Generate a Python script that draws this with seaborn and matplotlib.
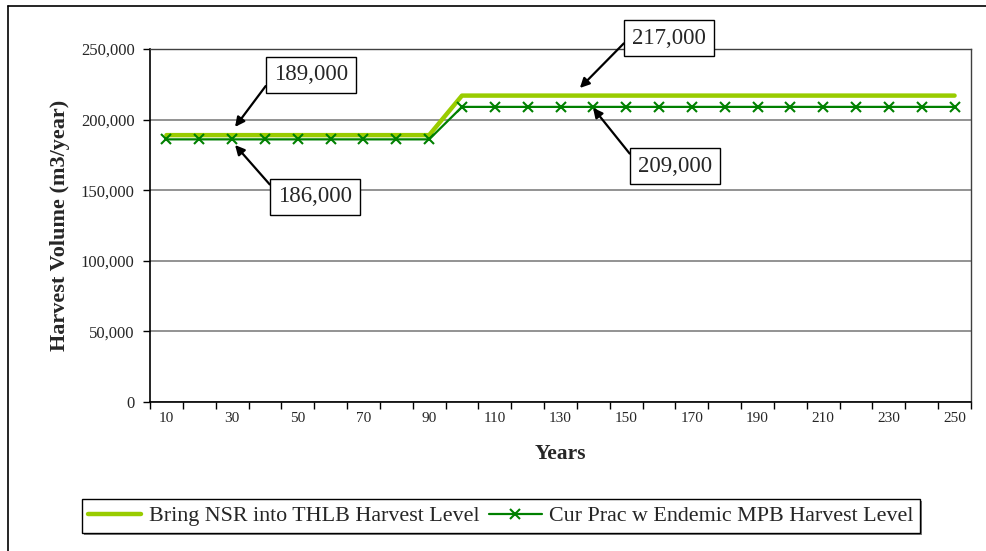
import numpy as np
import pandas as pd
import matplotlib
matplotlib.use("Agg")
import matplotlib.pyplot as plt
from matplotlib.lines import Line2D
from matplotlib.ticker import FuncFormatter, FixedLocator
import matplotlib.patheffects as pe
import seaborn as sns

years = [10, 20, 30, 40, 50, 60, 70, 80, 90, 100, 110, 120, 130, 140, 150,
         160, 170, 180, 190, 200, 210, 220, 230, 240, 250]
nsr_thlb = [189000] * 9 + [217000] * 16
cur_prac = [186000] * 9 + [209000] * 16
series_names = ["Bring NSR into THLB Harvest Level",
                "Cur Prac w Endemic MPB Harvest Level"]
tick_labels = [10, 30, 50, 70, 90, 110, 130, 150, 170, 190, 210, 230, 250]
y_ticks = [0, 50000, 100000, 150000, 200000, 250000]

df = pd.DataFrame({
    "Years": years * 2,
    "Volume": nsr_thlb + cur_prac,
    "Series": [series_names[0]] * len(years) + [series_names[1]] * len(years),
})

sns.set_theme(style="white")
plt.rcParams["font.family"] = ["Liberation Serif", "DejaVu Serif"]

fig = plt.figure(figsize=(9.87, 5.51), dpi=100)
ax = fig.add_axes([150 / 987, 1 - 402 / 551, 821 / 987, 353 / 551])

palette = {series_names[0]: "#99CC00", series_names[1]: "#008000"}
sns.lineplot(data=df[df.Series == series_names[0]], x="Years", y="Volume",
             color=palette[series_names[0]], linewidth=3.2, ax=ax,
             label=series_names[0], solid_capstyle="round")
sns.lineplot(data=df[df.Series == series_names[1]], x="Years", y="Volume",
             color=palette[series_names[1]], linewidth=1.6, marker="x",
             markersize=7.5, markeredgewidth=1.5, markeredgecolor="#008000",
             ax=ax, label=series_names[1])

ax.set_xlim(5, 255)
ax.set_ylim(0, 250000)
ax.set_yticks(y_ticks)
ax.yaxis.set_major_formatter(FuncFormatter(lambda v, p: f"{int(v):,}"))
ax.grid(axis="y", color="#808080", linewidth=1.2)
ax.set_axisbelow(True)

# Category boundaries as tick marks, labels at category centers
ax.xaxis.set_major_locator(FixedLocator([y - 5 for y in years] + [255]))
ax.xaxis.set_major_formatter(FuncFormatter(lambda v, p: ""))
ax.xaxis.set_minor_locator(FixedLocator(tick_labels))
ax.xaxis.set_minor_formatter(FuncFormatter(lambda v, p: f"{int(v)}"))
ax.tick_params(axis="x", which="major", direction="out", length=5, width=1,
               color="black", bottom=True)
ax.tick_params(axis="x", which="minor", length=0, pad=7, labelsize=11)
ax.tick_params(axis="y", which="major", direction="out", length=5, width=1,
               color="black", left=True, labelsize=12, pad=6)

for side in ["left", "bottom"]:
    ax.spines[side].set_color("black")
    ax.spines[side].set_linewidth(1.2)
for side in ["top", "right"]:
    ax.spines[side].set_color("#404040")
    ax.spines[side].set_linewidth(1.0)

ax.set_xlabel("Years", fontsize=15.5, fontweight="bold", labelpad=14)
ax.set_ylabel("Harvest Volume (m3/year)", fontsize=16, fontweight="bold",
              labelpad=8)

# Annotations
box = dict(boxstyle="square,pad=0.34", fc="white", ec="black", lw=1)
arrow = dict(arrowstyle="-|>", color="black", lw=1.6, mutation_scale=14,
             shrinkA=0, shrinkB=0)
ann = [
    (f"{nsr_thlb[0]:,}", (30.9, 194800), (311, 551 - 75), (0, 0.5)),
    (f"{cur_prac[0]:,}", (30.9, 182000), (315, 551 - 197), (0, 0.65)),
    (f"{nsr_thlb[-1]:,}", (135.9, 222400), (669, 551 - 38), (0.03, 0.75)),
    (f"{cur_prac[-1]:,}", (139.9, 208300), (675, 551 - 166), (0, 0.6)),
]
for txt, xy, xyt, rp in ann:
    ax.annotate(txt, xy=xy, xycoords="data", xytext=xyt,
                textcoords="figure pixels", ha="center", va="center",
                fontsize=16.5, bbox=box, annotation_clip=False,
                arrowprops=dict(arrow, relpos=rp))

# Legend
leg = ax.legend(loc="center", bbox_to_anchor=(501 / 987, 1 - 516 / 551),
                bbox_transform=fig.transFigure, ncol=2, frameon=True,
                fancybox=False, shadow=False, framealpha=1,
                fontsize=15.8, handlelength=2.4, handletextpad=0.35,
                columnspacing=0.45, borderpad=0.3, borderaxespad=0)
leg.get_frame().set_edgecolor("black")
leg.get_frame().set_facecolor("white")
leg.get_frame().set_linewidth(1.0)
leg.get_frame().set_path_effects([
    pe.SimplePatchShadow(offset=(1.5, -1.5), shadow_rgbFace="#808080",
                         alpha=1),
    pe.Normal()])

# Outer chart border (top and left visible)
fig.add_artist(Line2D([8 / 987, 1.0], [1 - 6 / 551, 1 - 6 / 551],
                      transform=fig.transFigure, color="black", lw=1.2))
fig.add_artist(Line2D([8 / 987, 8 / 987], [0, 1 - 6 / 551],
                      transform=fig.transFigure, color="black", lw=1.2))

fig.savefig("out.png", dpi=100)
